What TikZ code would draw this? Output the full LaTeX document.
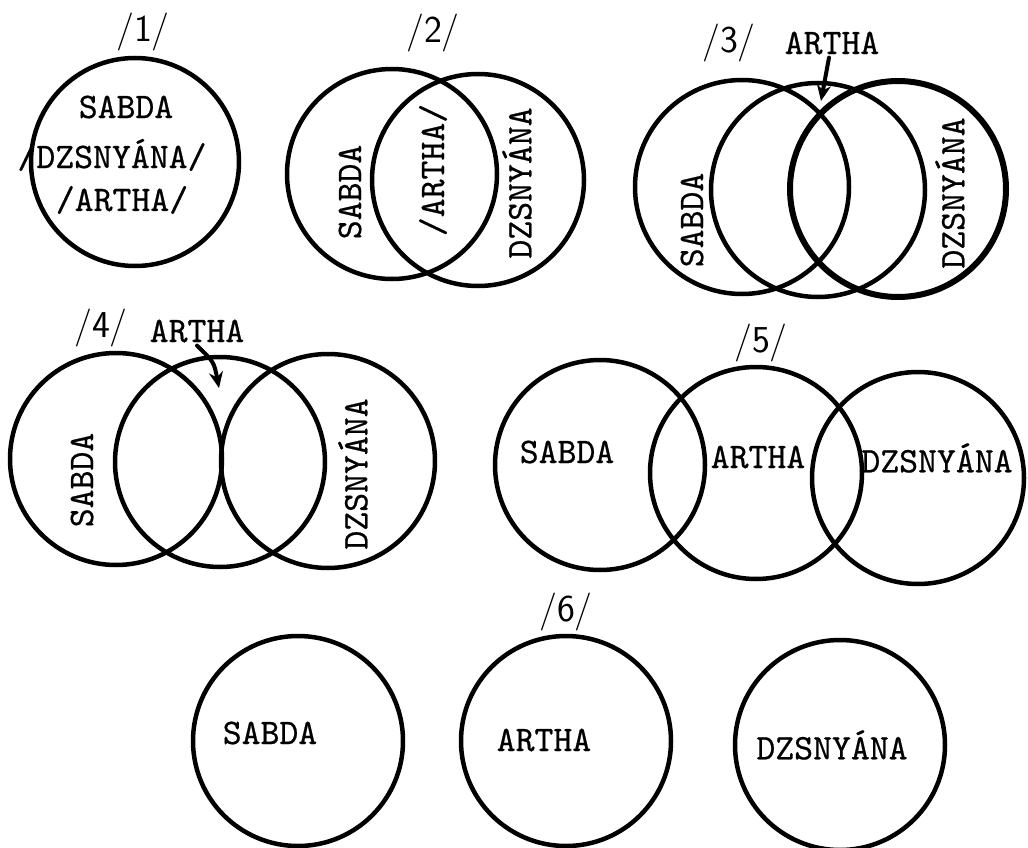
\documentclass[tikz,border=0pt]{standalone}
\usepackage{fontspec}
\usetikzlibrary{arrows.meta}

\newfontfamily\typefont{lmmono10-regular.otf}[FakeBold=0.6]

\begin{document}
\begin{tikzpicture}[x=1pt, y=-1pt, line cap=round, line join=round,
		ring/.style={line width=4.5pt},
		word/.style={font=\fontsize{36}{36}\selectfont\typefont, inner sep=0pt},
		upword/.style={word, rotate=90},
		tag/.style={font=\fontsize{38}{38}\selectfont\sffamily, inner sep=0pt},
		pointer/.style={line width=4pt, -{Stealth[length=16pt, width=14pt]}}]
	
	% Page frame (image coordinates, y downwards)
	\useasboundingbox (0,0) rectangle (1028,848);
	
	% /1/ : one circle
	\node[tag] (tagA) at (143,32) {/1/};
	\draw[ring] (135,162) circle (104);
	\node[word] (sabdaA) at (126,107) {SABDA};
	\node[word] (dzsA) at (112,155) {/DZSNYÁNA/};
	\node[word] (arthaA) at (122,200) {/ARTHA/};
	
	% /2/ : two circles, artha in the overlap
	\node[tag] (tagB) at (433,33) {/2/};
	\draw[ring] (392,174) circle (105);
	\draw[ring] (478,180) circle (106);
	\node[upword] (sabdaB) at (350,192) {SABDA};
	\node[upword] (arthaB) at (433,170) {/ARTHA/};
	\node[upword] (dzsB) at (517,183) {DZSNYÁNA};
	
	% /3/ : three circles, strongly overlapping
	\node[tag] (tagC) at (729,43) {/3/};
	\node[word] (arthaC) at (832,43) {ARTHA};
	\draw[ring] (742,187) circle (107);
	\draw[ring] (818,190) circle (107);
	\draw[ring, line width=6pt] (898,189) circle (108);
	\coordinate (tipC) at (821,101);
	\draw[pointer] ([xshift=-3pt, yshift=-3pt]arthaC.south) -- (tipC);
	\node[upword] (sabdaC) at (692,220) {SABDA};
	\node[upword] (dzsC) at (950,193) {DZSNYÁNA};
	
	% /4/ : three circles in a row, middle one shared
	\node[tag] (tagD) at (101,328) {/4/};
	\node[word] (arthaD) at (197,331) {ARTHA};
	\draw[ring] (116,459) circle (106);
	\draw[ring] (220,462) circle (105);
	\draw[ring] (328,461) circle (107);
	\coordinate (tipD) at (219,388);
	\draw[pointer] ([yshift=-3pt]arthaD.south) .. controls (214,362) .. (tipD);
	\node[upword] (sabdaD) at (82,480) {SABDA};
	\node[upword] (dzsD) at (353,474) {DZSNYÁNA};
	
	% /5/ : three circles, small overlaps
	\node[tag] (tagE) at (761,343) {/5/};
	\draw[ring] (600,465) circle (105);
	\draw[ring] (756,473) circle (106);
	\draw[ring] (918,478) circle (106);
	\node[word] (sabdaE) at (567,452) {SABDA};
	\node[word] (arthaE) at (758,457) {ARTHA};
	\node[word] (dzsE) at (937,458) {DZSNYÁNA};
	
	% /6/ : three separate circles
	\node[tag] (tagF) at (566,612) {/6/};
	\draw[ring] (298,741) circle (105);
	\draw[ring] (566,741) circle (105);
	\draw[ring] (840,745) circle (105);
	\node[word] (sabdaF) at (270,733) {SABDA};
	\node[word] (arthaF) at (544,740) {ARTHA};
	\node[word] (dzsF) at (832,745) {DZSNYÁNA};
	
\end{tikzpicture}
\end{document}
